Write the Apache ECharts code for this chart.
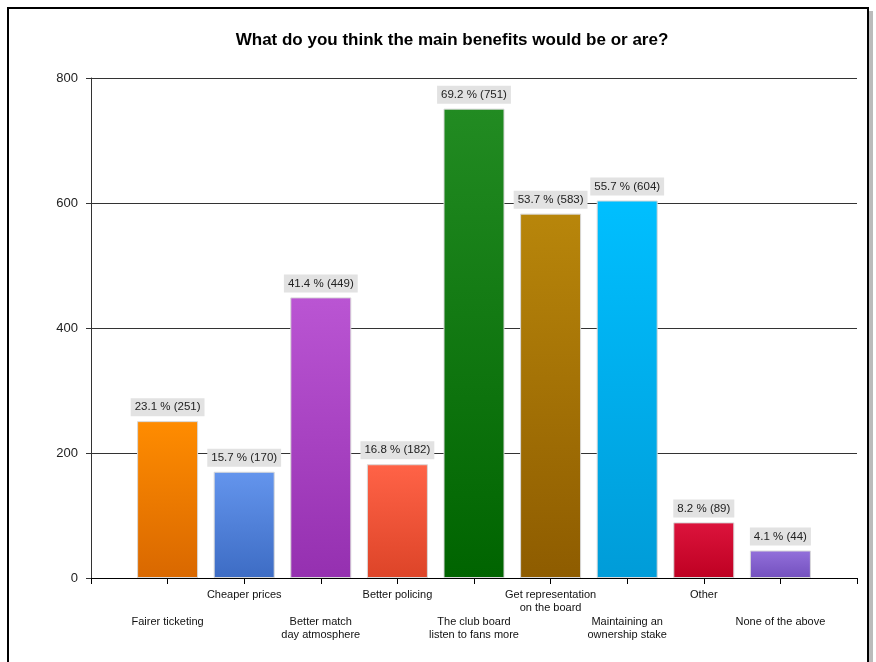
<!DOCTYPE html>
<html><head><meta charset="utf-8">
<script src="https://cdn.jsdelivr.net/npm/echarts@6/dist/echarts.min.js"></script>
<style>html,body{margin:0;padding:0;background:#fff}#c{width:876px;height:662px}</style>
</head><body><div id="c"></div>
<script>
const categories = ['Fairer ticketing','Cheaper prices','Better match\nday atmosphere','Better policing','The club board\nlisten to fans more','Get representation\non the board','Maintaining an\nownership stake','Other','None of the above'];
const counts = [251,170,449,182,751,583,604,89,44];
const percents = [23.1,15.7,41.4,16.8,69.2,53.7,55.7,8.2,4.1];
const yTicks = [0,200,400,600,800];
const topColors = ['#FF8C00','#6495ED','#BA55D3','#FF6347','#228B22','#B8860B','#00BFFF','#DC143C','#9370DB'];
const bottomColors = ['#D96800','#3D6CC4','#9530B0','#DD4428','#006400','#8E5C00','#009CD8','#BE0022','#7350BE'];

const chart = echarts.init(document.getElementById('c'));
const xData = [''].concat(categories).concat(['']);
const sData = ['-'].concat(counts.map((v,i)=>({
  value: v,
  itemStyle: {color: new echarts.graphic.LinearGradient(0,0,0,1,[{offset:0,color:topColors[i]},{offset:1,color:bottomColors[i]}])}
}))).concat(['-']);

chart.setOption({
  animation:false,
  textStyle:{fontFamily:'Liberation Sans'},
  title:{text:'What do you think the main benefits would be or are?',left:447,top:27,textAlign:'center',
    textStyle:{fontSize:17,fontWeight:'bold',color:'#000',fontFamily:'Liberation Sans'}},
  graphic:[
    {type:'rect',shape:{x:11,y:11,width:862,height:670},style:{fill:'#bbb'},z:-10},
    {type:'rect',shape:{x:8,y:8,width:860,height:670},style:{fill:'#fff',stroke:'#000',lineWidth:2},z:-9}
  ],
  grid:{left:91,right:19,top:78,bottom:84},
  xAxis:{type:'category',data:xData,boundaryGap:false,
    axisLine:{lineStyle:{color:'#000',width:1}},
    axisTick:{show:true,interval:0,length:6,lineStyle:{color:'#000'}},
    axisLabel:{interval:0,margin:10,color:'#111',fontSize:11,lineHeight:13.5,verticalAlign:'top',
      formatter:(v,i)=> v==='' ? '' : (i%2===1 ? '\n\n'+v : v)},
    splitLine:{show:false}},
  yAxis:{type:'value',min:0,max:800,interval:200,
    axisLine:{show:true,lineStyle:{color:'#333'}},
    axisTick:{show:true,length:5,lineStyle:{color:'#333'}},
    axisLabel:{color:'#222',fontSize:13,margin:13},
    splitLine:{lineStyle:{color:'#333',width:1}}},
  series:[{type:'bar',data:sData,barWidth:61,
    itemStyle:{borderColor:'#d8d8d8',borderWidth:1},
    label:{show:true,position:'top',distance:5,backgroundColor:'#e2e2e2',padding:[3,4,3,4],
      color:'#222',fontSize:11.5,
      formatter:p=>percents[p.dataIndex-1].toFixed(1)+' % ('+counts[p.dataIndex-1]+')'}}]
});
</script></body></html>
